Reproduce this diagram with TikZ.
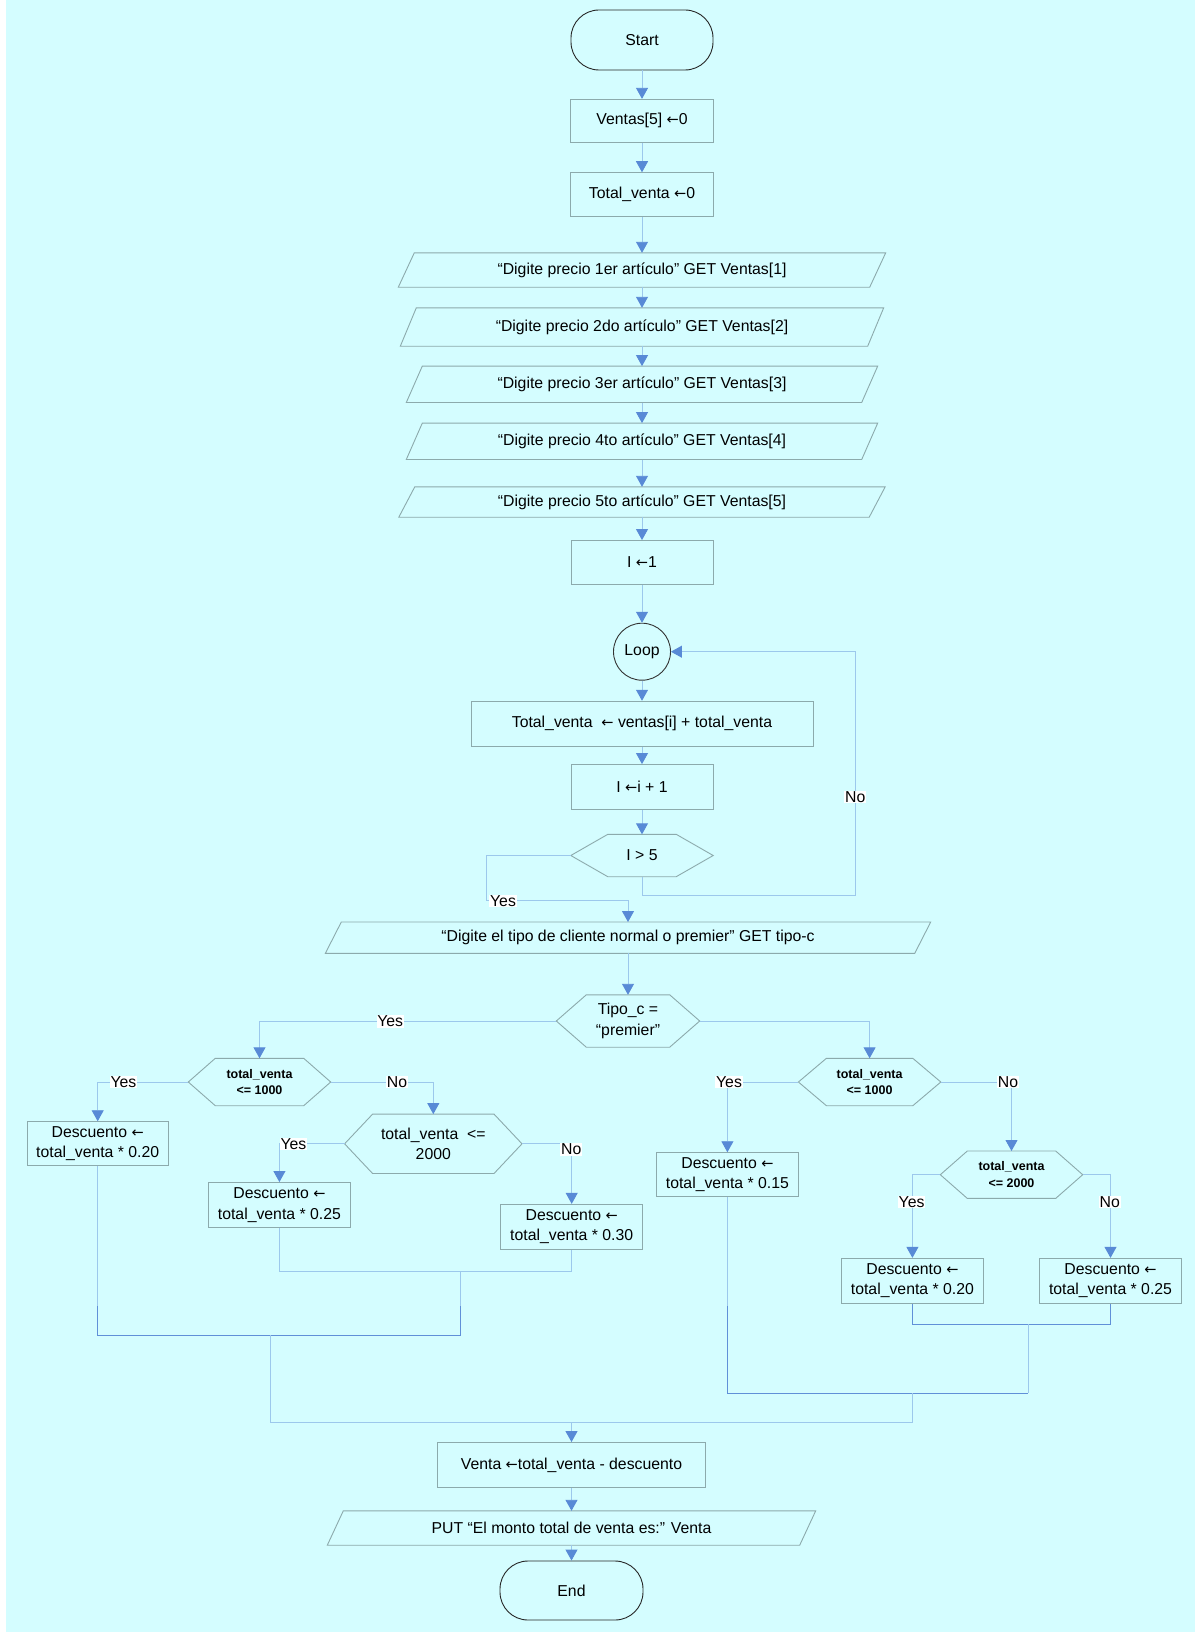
\documentclass[tikz,border=0pt]{standalone}
\usepackage{fontspec}
\setmainfont{Liberation Sans}
\newfontfamily\symfont{DejaVu Sans}[Scale=0.92]
\usetikzlibrary{arrows.meta,calc}

\definecolor{bgcol}{RGB}{212,253,255}
\definecolor{edgecol}{RGB}{156,200,236}
\definecolor{mergecol}{RGB}{96,144,216}
\definecolor{tipcol}{RGB}{88,138,214}
\definecolor{framecol}{RGB}{140,170,172}

% assignment arrow
\newcommand{\getsym}{{\symfont ←}}
% input/output slab: name, x, y, width, height, text
\newcommand{\ioslab}[6]{%
  \node[minimum width=#4, minimum height=#5] (#1) at (#2,#3) {#6};
  \draw[frame] ($(#1.south west)+(-8,0)$) -- ($(#1.north west)+(8,0)$)
    -- ($(#1.north east)+(8,0)$) -- ($(#1.south east)+(-8,0)$) -- cycle;
}
% decision hexagon: [node options] name, x, y, width, height, slant, text
\newcommand{\hexcond}[8][]{%
  \node[minimum width=#5, minimum height=#6, #1] (#2) at (#3,#4) {#8};
  \draw[frame] (#2.west) -- ($(#2.north west)+(#7,0)$) -- ($(#2.north east)+(-#7,0)$)
    -- (#2.east) -- ($(#2.south east)+(-#7,0)$) -- ($(#2.south west)+(#7,0)$) -- cycle;
}

\begin{document}
\begin{tikzpicture}[x=1pt,y=-1pt,
  every node/.style={font=\fontsize{15.8}{20.5}\selectfont, text=black, inner sep=0pt, align=center},
  frame/.style={draw=framecol, line width=0.9pt},
  proc/.style={frame, rectangle},
  term/.style={draw=black!85, line width=0.9pt, rectangle, rounded corners=28pt},
  flag/.style={fill=white, inner sep=0.8pt, font=\fontsize{15.8}{16}\selectfont},
  flow/.style={draw=edgecol, line width=0.9pt},
  into/.style={flow, -{Triangle[width=12pt,length=11pt,color=tipcol]}},
  joinline/.style={draw=mergecol, line width=0.9pt},
  small/.style={font=\bfseries\fontsize{12.5}{16.5}\selectfont},
]
\useasboundingbox (0,0) rectangle (1195,1632);
\fill[white] (0,0) rectangle (1195,1632);
\fill[bgcol] (6,0) rectangle (1195,1632);

% ---- main column ----
\node[term, minimum width=142, minimum height=60] (start) at (642,40) {Start};
\node[proc, minimum width=143, minimum height=43] (v5) at (642,120.8) {Ventas[5] \getsym0};
\node[proc, minimum width=143, minimum height=44] (tv0) at (642,194.7) {Total\_venta \getsym0};
\ioslab{io1}{642}{270}{471}{34}{“Digite precio 1er artículo” GET Ventas[1]}
\ioslab{io2}{642}{327}{467}{38}{“Digite precio 2do artículo” GET Ventas[2]}
\ioslab{io3}{642}{384.3}{455}{36}{“Digite precio 3er artículo” GET Ventas[3]}
\ioslab{io4}{642}{441.3}{455}{36}{“Digite precio 4to artículo” GET Ventas[4]}
\ioslab{io5}{642}{502}{470}{30}{“Digite precio 5to artículo” GET Ventas[5]}
\node[proc, minimum width=142, minimum height=44] (i1) at (642,562.5) {I \getsym1};
\node[circle, draw=black!80, line width=0.9pt, minimum size=57] (loop) at (642,651.7) {Loop};
\node[proc, minimum width=342, minimum height=45] (sum) at (642,723.7) {Total\_venta \ \getsym\ ventas[i] + total\_venta};
\node[proc, minimum width=142, minimum height=45] (inc) at (642,787) {I \getsym i + 1};
\hexcond{cond1}{642}{855.5}{142}{42}{37}{I > 5}

% ---- client type ----
\ioslab{iotipo}{628}{937.7}{589}{31}{“Digite el tipo de cliente normal o premier” GET tipo-c}
\hexcond{tipo}{628}{1021}{143}{52}{30}{Tipo\_c =\\“premier”}

% ---- premier branch ----
\hexcond[small]{L1}{259.5}{1082}{142}{47}{27}{total\_venta\\<= 1000}
\hexcond{L2}{433.3}{1143.8}{177}{59}{28}{total\_venta \ <=\\2000}
\node[proc, minimum width=141, minimum height=44] (LL) at (97.7,1143.7) {Descuento \getsym\\total\_venta * 0.20};
\node[proc, minimum width=142, minimum height=45] (LM) at (279.4,1205) {Descuento \getsym\\total\_venta * 0.25};
\node[proc, minimum width=142, minimum height=45] (LR) at (571.7,1226.8) {Descuento \getsym\\total\_venta * 0.30};

% ---- normal branch ----
\hexcond[small]{R1}{869.6}{1082}{142}{47}{28}{total\_venta\\<= 1000}
\hexcond[small]{R2}{1011.5}{1174.7}{142}{47}{27}{total\_venta\\<= 2000}
\node[proc, minimum width=142, minimum height=44] (R15) at (727.4,1174.7) {Descuento \getsym\\total\_venta * 0.15};
\node[proc, minimum width=142, minimum height=45] (R20) at (912.4,1280.8) {Descuento \getsym\\total\_venta * 0.20};
\node[proc, minimum width=142, minimum height=45] (R25) at (1110.5,1280.8) {Descuento \getsym\\total\_venta * 0.25};

% ---- result ----
\node[proc, minimum width=268, minimum height=45] (venta) at (571.5,1465) {Venta \getsym total\_venta - descuento};
\ioslab{put}{571.5}{1528}{472}{34}{PUT “El monto total de venta es:” Venta}
\node[term, minimum width=143, minimum height=59] (end) at (571.5,1590.5) {End};

% ---- straight flow ----
\draw[into] (start) -- (v5);
\draw[into] (v5) -- (tv0);
\draw[into] (tv0) -- (io1);
\draw[into] (io1) -- (io2);
\draw[into] (io2) -- (io3);
\draw[into] (io3) -- (io4);
\draw[into] (io4) -- (io5);
\draw[into] (io5) -- (i1);
\draw[into] (i1) -- (loop);
\draw[into] (loop) -- (sum);
\draw[into] (sum) -- (inc);
\draw[into] (inc) -- (cond1);

% ---- loop test ----
\coordinate (nobend) at (855.7,895);
\coordinate (yesbend) at (486.7,900.7);
\draw[into] (cond1.south) |- (nobend) |- (loop.east);
\draw[into] (cond1.west) -| (yesbend) -| (iotipo.north);
\draw[into] (iotipo) -- (tipo);

% ---- decisions ----
\draw[into] (tipo.west) -| (L1.north);
\draw[into] (tipo.east) -| (R1.north);
\draw[into] (L1.west) -| (LL.north);
\draw[into] (L1.east) -| (L2.north);
\draw[into] (L2.west) -| (LM.north);
\draw[into] (L2.east) -| (LR.north);
\draw[into] (R1.west) -| (R15.north);
\draw[into] (R1.east) -| (R2.north);
\draw[into] (R2.west) -| (R20.north);
\draw[into] (R2.east) -| (R25.north);

% ---- merging the discounts ----
\coordinate (jL) at (460.4,1271.7);
\coordinate (jLL) at (97.7,1306);
\coordinate (jLm) at (460.4,1306);
\coordinate (jLb) at (270.6,1335);
\draw[flow] (LM.south) |- (jL) -| (LR.south);
\draw[flow] (LL.south) -- (jLL);
\draw[flow] (jL) -- (jLm);
\draw[joinline] (jLL) |- (jLb) -| (jLm);

\coordinate (jR) at (1028.2,1324.3);
\coordinate (jR15) at (727.4,1306);
\coordinate (jRc) at (1028.2,1393.3);
\coordinate (jRb) at (912.4,1393.3);
\draw[joinline] (R20.south) |- (jR) -| (R25.south);
\draw[flow] (R15.south) -- (jR15);
\draw[joinline] (jR15) |- (jRc);
\draw[flow] (jR) -- (jRc);

\coordinate (jF) at (571.5,1422.7);
\draw[flow] (jLb) |- (jF) -| (jRb);
\draw[into] (jF) -- (venta.north);
\draw[into] (venta) -- (put);
\draw[into] (put) -- (end);

% ---- branch labels ----
\node[flag] (noloop) at (855.3,797) {No};
\node[flag] (yesloop) at (503,901) {Yes};
\node[flag] (yestipo) at (390.2,1021.5) {Yes};
\node[flag] (yesL1) at (123.4,1082) {Yes};
\node[flag] (noL1) at (397,1082) {No};
\node[flag] (yesL2) at (293.4,1144) {Yes};
\node[flag] (noL2) at (571.3,1149.5) {No};
\node[flag] (yesR1) at (729,1082) {Yes};
\node[flag] (noR1) at (1008,1082) {No};
\node[flag] (yesR2) at (911.6,1202) {Yes};
\node[flag] (noR2) at (1109.8,1202) {No};
\end{tikzpicture}
\end{document}
